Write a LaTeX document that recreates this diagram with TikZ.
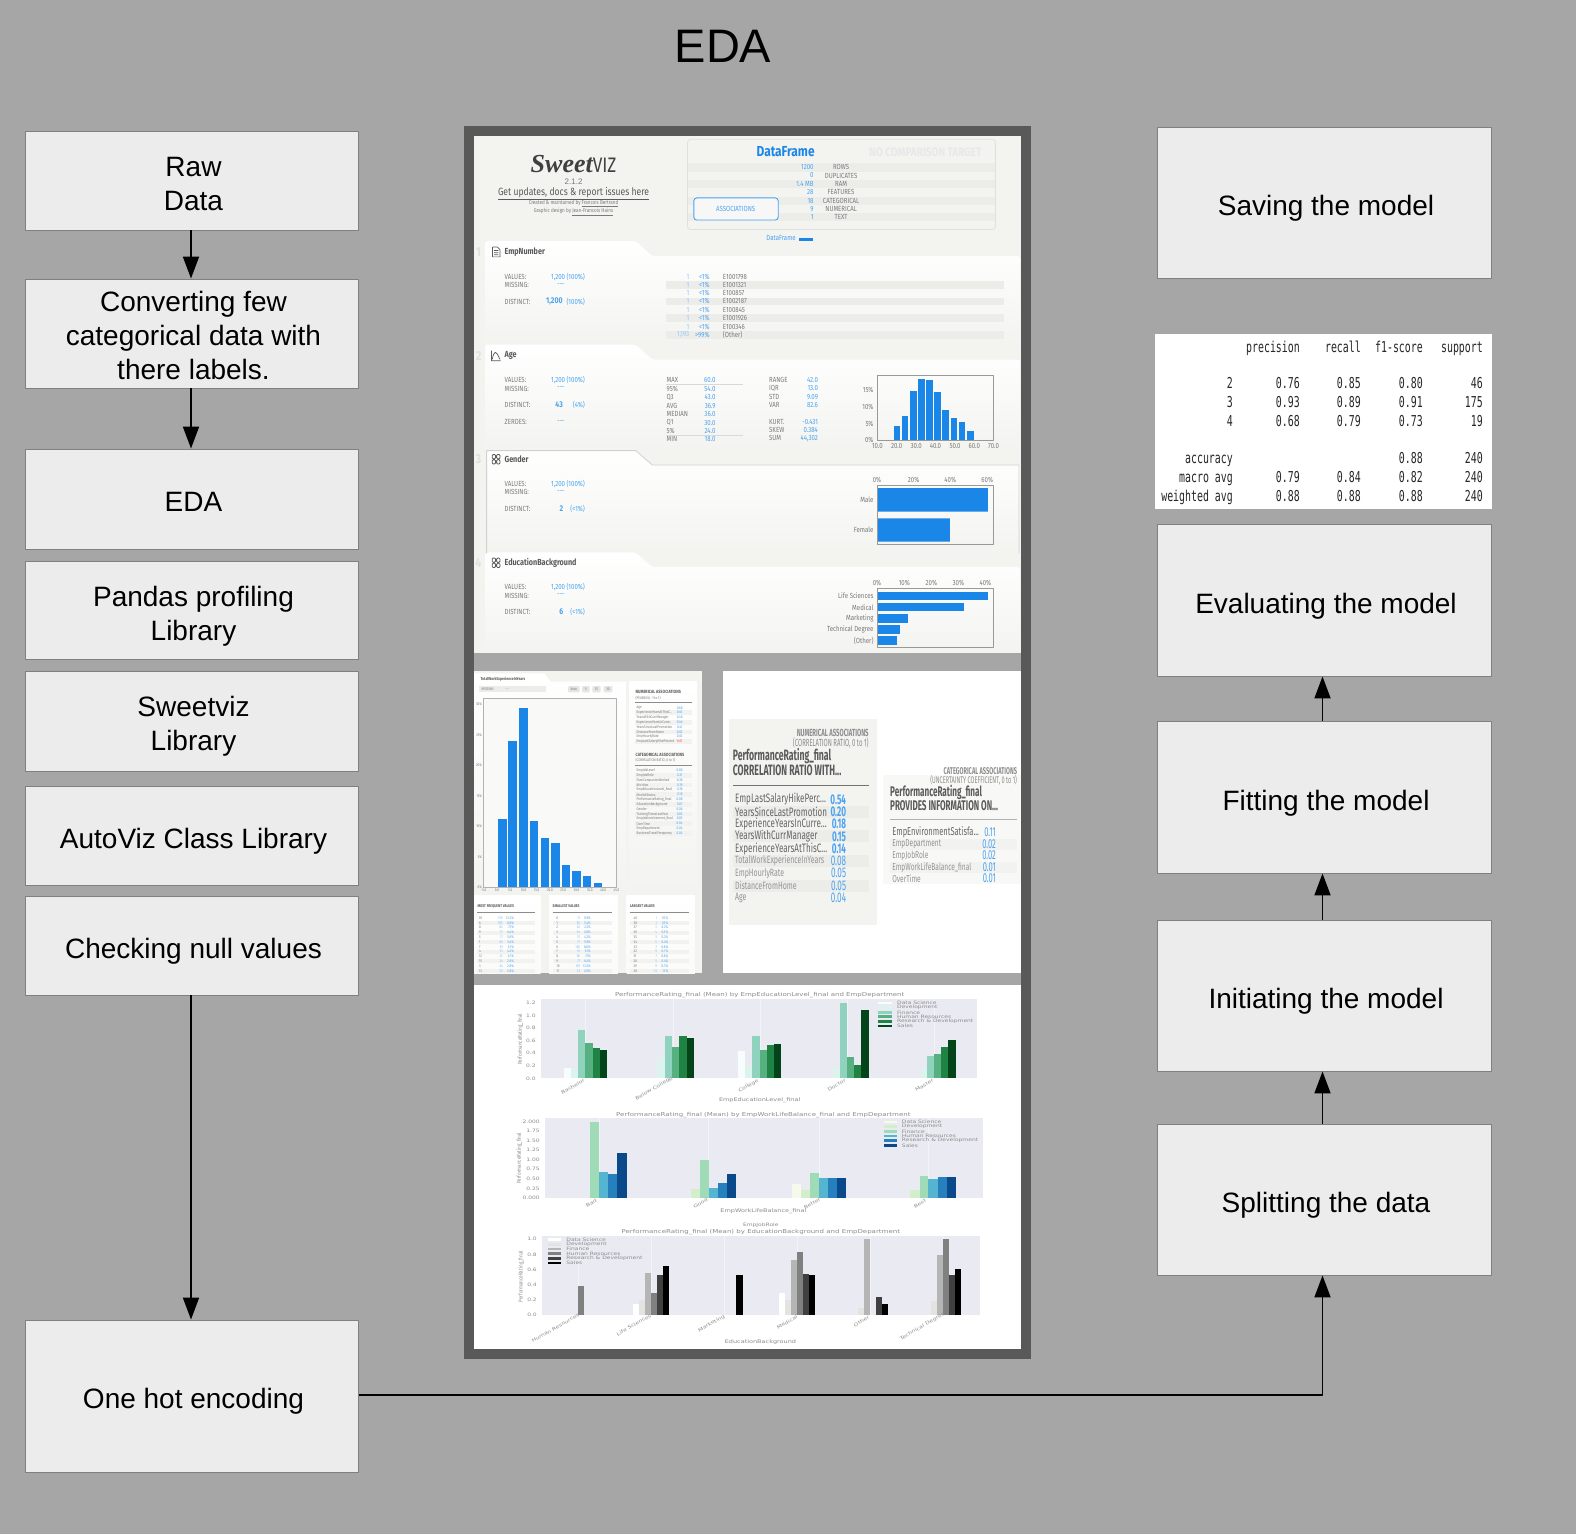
\documentclass[tikz,border=0pt]{standalone}
\usepackage{fontspec}
\usetikzlibrary{arrows.meta}
\setmainfont{Liberation Sans}
\newfontfamily\reportfont[FakeStretch=0.82]{Fira Sans}
\newfontfamily\shotfont[FakeStretch=0.58]{Fira Sans}
\newfontfamily\shotrowfont[FakeStretch=0.66]{Fira Sans}
\newfontfamily\logofont{Liberation Serif}
\newfontfamily\tablefont[FakeStretch=0.66]{DejaVu Sans Mono}
\newfontfamily\chartfont[FakeStretch=1.3]{DejaVu Sans}
\newcommand{\cutdots}{...}
\newcommand{\boxtext}[2][6pt]{\raisebox{-#1}[\height][\depth]{\hspace{3pt}\begin{tabular}{@{}c@{}}#2\end{tabular}}}
\definecolor{pagegray}{HTML}{A6A6A6}
\definecolor{boxfill}{HTML}{ECECEC}
\definecolor{boxline}{HTML}{808080}
\definecolor{framedark}{HTML}{595959}
\definecolor{panelbg}{HTML}{F3F3F0}
\definecolor{stripe}{HTML}{ECECE9}
\definecolor{barblue}{HTML}{1A86E8}
\definecolor{valueblue}{HTML}{4BA3F0}
\definecolor{labelgray}{HTML}{7A7A7A}
\definecolor{headgray}{HTML}{5A5A5A}
\definecolor{plotbg}{HTML}{EAEAF2}
\definecolor{plotgrid}{HTML}{F4F4F8}
\definecolor{chartgray}{HTML}{8C8C8C}
\definecolor{bga}{HTML}{F7FCFD}\definecolor{bgb}{HTML}{DDF3EE}\definecolor{bgc}{HTML}{8FD3BE}
\definecolor{bgd}{HTML}{56B080}\definecolor{bge}{HTML}{1F8443}\definecolor{bgf}{HTML}{04441B}
\definecolor{gba}{HTML}{F5FBEC}\definecolor{gbb}{HTML}{D3EECB}\definecolor{gbc}{HTML}{A0DBB8}
\definecolor{gbd}{HTML}{55B5D0}\definecolor{gbe}{HTML}{2580BD}\definecolor{gbf}{HTML}{0A4A8A}
\definecolor{gra}{HTML}{FFFFFF}\definecolor{grb}{HTML}{E3E3DF}\definecolor{grc}{HTML}{B5B5B5}
\definecolor{grd}{HTML}{808080}\definecolor{gre}{HTML}{404040}\definecolor{grf}{HTML}{000000}
\tikzset{
	flowbox/.style={draw=boxline,fill=boxfill,line width=.9pt,minimum width=333.5pt,inner sep=0pt,font=\fontsize{28}{34}\selectfont},
	flowarrow/.style={line width=1.8pt,-{Triangle[length=22pt,width=16pt]}},
	replabel/.style={font=\reportfont\fontsize{7.4}{8}\selectfont,text=labelgray,inner sep=0pt,anchor=west},
	repvalue/.style={font=\reportfont\fontsize{7.4}{8}\selectfont,text=valueblue,inner sep=0pt,anchor=east},
	smalllabel/.style={font=\reportfont\fontsize{3.8}{4}\selectfont,text=labelgray,inner sep=0pt,anchor=west},
	smallvalue/.style={font=\reportfont\fontsize{3.8}{4}\selectfont,text=valueblue,inner sep=0pt,anchor=east},
	smallhead/.style={font=\reportfont\bfseries\fontsize{4.6}{5}\selectfont,text=headgray,inner sep=0pt,anchor=west},
	charttext/.style={font=\chartfont\fontsize{4.6}{5}\selectfont,text=chartgray,inner sep=0pt},
	charttitle/.style={font=\chartfont\fontsize{5.4}{6}\selectfont,text=chartgray,inner sep=0pt},
	tablecell/.style={font=\tablefont\fontsize{15}{18}\selectfont,text=black!85,inner sep=0pt,anchor=base east}
}
\begin{document}
\begin{tikzpicture}[x=1pt,y=-1pt,line join=round]
	\path[use as bounding box] (0,0) rectangle (1576,1534);
	\fill[pagegray] (0,0) rectangle (1576,1534);

	\node[font=\fontsize{47}{50}\selectfont,inner sep=0pt] (title) at (723,46) {EDA};

	% Left column
	\node[flowbox,minimum height=99pt] (rawdata) at (192,180.5) {\boxtext{Raw\\Data}};
	\node[flowbox,minimum height=109pt] (convert) at (192,333.5) {\boxtext[5pt]{Converting few\\categorical data with\\there labels.}};
	\node[flowbox,minimum height=100pt] (eda) at (192,499) {\boxtext{EDA}};
	\node[flowbox,minimum height=98pt] (pandas) at (192,610) {\boxtext[7pt]{Pandas profiling\\Library}};
	\node[flowbox,minimum height=100pt] (sweetviz) at (192,721) {\boxtext{Sweetviz\\Library}};
	\node[flowbox,minimum height=99pt] (autoviz) at (192,835.5) {\boxtext{AutoViz Class Library}};
	\node[flowbox,minimum height=99pt] (nullcheck) at (192,945.5) {\boxtext{Checking null values}};
	\node[flowbox,minimum height=152pt] (onehot) at (192,1396) {\boxtext[6pt]{One hot encoding}};

	% Right column
	\node[flowbox,minimum height=151pt] (saving) at (1324.5,202.5) {\boxtext{Saving the model}};
	\node[flowbox,minimum height=152pt] (evaluate) at (1324.5,600) {\boxtext[7pt]{Evaluating the model}};
	\node[flowbox,minimum height=152pt] (fitting) at (1324.5,797) {\boxtext[7pt]{Fitting the model}};
	\node[flowbox,minimum height=151pt] (initiate) at (1324.5,995.5) {\boxtext{Initiating the model}};
	\node[flowbox,minimum height=151pt] (splitting) at (1324.5,1199.5) {\boxtext{Splitting the data}};

	% Arrows
	\draw[flowarrow] ([xshift=-1pt]rawdata.south) -- ([xshift=-1pt]convert.north);
	\draw[flowarrow] ([xshift=-1pt]convert.south) -- ([xshift=-1pt]eda.north);
	\draw[flowarrow] ([xshift=-1pt]nullcheck.south) -- ([xshift=-1pt]onehot.north);
	\draw[flowarrow] ([yshift=1pt]onehot.east) -| ([xshift=-2pt]splitting.south);
	\draw[flowarrow] ([xshift=-2pt]splitting.north) -- ([xshift=-2pt]initiate.south);
	\draw[flowarrow] ([xshift=-2pt]initiate.north) -- ([xshift=-2pt]fitting.south);
	\draw[flowarrow] ([xshift=-2pt]fitting.north) -- ([xshift=-2pt]evaluate.south);

	% Classification report
	\fill[white] (1155,334) rectangle (1492,509);
	\foreach \yrow/\lbl/\pa/\pb/\pc/\pd [count=\k] in {
		388/2/0.76/0.85/0.80/46,407/3/0.93/0.89/0.91/175,426/4/0.68/0.79/0.73/19,
		482/macro avg/0.79/0.84/0.82/240,501/weighted avg/0.88/0.88/0.88/240}{
		\node[tablecell] (rowname\k) at (1233,\yrow) {\lbl};
		\node[tablecell] (rowpre\k) at (1300,\yrow) {\pa};
		\node[tablecell] (rowrec\k) at (1361,\yrow) {\pb};
		\node[tablecell] (rowfone\k) at (1423,\yrow) {\pc};
		\node[tablecell] (rowsup\k) at (1483,\yrow) {\pd};
	}
	\node[tablecell] (headpre) at (1300,352) {precision};
	\node[tablecell] (headrec) at (1361,352) {recall};
	\node[tablecell] (headfone) at (1423,352) {f1-score};
	\node[tablecell] (headsup) at (1483,352) {support};
	\node[tablecell] (accname) at (1233,463) {accuracy};
	\node[tablecell] (accfone) at (1423,463) {0.88};
	\node[tablecell] (accsup) at (1483,463) {240};

	% Report frame
	\fill[framedark] (464,126) rectangle (1031,1359);

	% Report, first shot
	\begin{scope}[shift={(460,120)},x=0.37pt,y=-0.351pt]
		\fill[panelbg] (38,47) rectangle (1516,1520);
		\node[inner sep=0pt,text=black!75] (logo) at (307,125) {\logofont\bfseries\itshape\fontsize{26}{30}\selectfont Sweet\reportfont\upshape\mdseries\fontsize{21}{22}\selectfont VIZ};
		\node[inner sep=0pt,text=labelgray,font=\fontsize{8}{9}\selectfont] (version) at (307,175) {2.1.2};
		\node[inner sep=0pt,text=headgray,font=\reportfont\fontsize{10.5}{11}\selectfont] (getdocs) at (307,210) {\underline{Get updates, docs \& report issues here}};
		\node[inner sep=0pt,text=labelgray,font=\reportfont\fontsize{5.6}{6}\selectfont] (created) at (307,238) {Created \& maintained by \underline{Francois Bertrand}};
		\node[inner sep=0pt,text=labelgray,font=\reportfont\fontsize{5.6}{6}\selectfont] (design) at (307,262) {Graphic design by \underline{Jean-Francois Hains}};

		% DataFrame box
		\draw[draw=black!12,fill=panelbg,line width=.8pt,rounded corners=3pt] (615,55) rectangle (1447,312);
		\foreach \yrow in {135,182,230,277}
			\fill[stripe] (617,\yrow-12) rectangle (1445,\yrow+12);
		\node[inner sep=0pt,text=barblue,font=\reportfont\bfseries\fontsize{14.5}{15}\selectfont] (dfname) at (880,90) {DataFrame};
		\node[inner sep=0pt,text=black!9,font=\reportfont\bfseries\fontsize{12.2}{13}\selectfont] (nocompare) at (1258,93) {NO COMPARISON TARGET};
		\foreach \yrow/\val/\lbl [count=\k] in {135/1200/ROWS,158/0/DUPLICATES,182/1.4 MB/RAM,206/28/FEATURES,230/18/CATEGORICAL,253/9/NUMERICAL,277/1/TEXT}{
			\node[repvalue] (dfval\k) at (956,\yrow) {\val};
			\node[replabel,anchor=center] (dflbl\k) at (1030,\yrow) {\lbl};
		}
		\draw[draw=valueblue,fill=black!3,line width=.9pt,rounded corners=3pt] (632,222) rectangle (860,285);
		\node[repvalue,anchor=center] (assoc) at (745,253) {ASSOCIATIONS};
		\node[repvalue] (dfkey) at (908,337) {DataFrame};
		\fill[barblue] (917,335) rectangle (955,345);

		% Section tabs
		\foreach \ytab/\ymain/\ybot/\xleft/\ylab/\ttl [count=\k] in {345/388/640/68/377/EmpNumber,640/683/940/68/672/Age,942/983/1235/72/967/Gender,1232/1274/1520/68/1262/EducationBackground}{
			\shade[top color=white,bottom color=panelbg,rounded corners=2pt] (\xleft,\ybot) -- (\xleft,\ytab) -- (475,\ytab) -- (520,\ymain) -- (1513,\ymain) -- (1513,\ybot) -- cycle;
			\node[inner sep=0pt,text=black!12,font=\reportfont\bfseries\fontsize{13}{14}\selectfont] (secnum\k) at (50,\ylab) {\k};
			\node[inner sep=0pt,anchor=west,text=headgray,font=\reportfont\bfseries\fontsize{8.8}{10}\selectfont] (sectitle\k) at (120,\ylab) {\ttl};
		}
		\draw[black!18,line width=.8pt] (72,1235) -- (72,942) -- (475,942) -- (520,983) -- (1511,983) -- (1511,1235);

		% Section icons
		\draw[headgray,line width=.7pt] (88,362) -- (101,362) -- (108,369) -- (108,390) -- (88,390) -- cycle (92,372) -- (104,372) (92,378) -- (104,378) (92,384) -- (104,384);
		\draw[headgray,line width=.7pt] (85,657) -- (85,686) -- (110,686) (87,682) .. controls (93,655) and (97,655) .. (108,682);
		\foreach \ysq in {953,1248}{
			\draw[headgray,line width=.8pt,rounded corners=1pt] (87,\ysq) rectangle (96,\ysq+12) (99,\ysq) rectangle (108,\ysq+12) (87,\ysq+15) rectangle (96,\ysq+27) (99,\ysq+15) rectangle (108,\ysq+27);
		}

		% Values and distinct
		\foreach \off/\xdist/\dist/\share [count=\k] in {0/255/{1,200}/(100\%),295/268/43/(4\%),590/274/2/(<1\%),885/274/6/(<1\%)}{
			\node[replabel] (lblvalues\k) at (120,446+\off) {VALUES:};
			\node[repvalue] (valvalues\k) at (338,446+\off) {1,200 (100\%)};
			\node[replabel] (lblmissing\k) at (120,470+\off) {MISSING:};
			\node[repvalue,anchor=center] (valmissing\k) at (273,470+\off) {---};
			\node[replabel] (lbldistinct\k) at (120,517+\off) {DISTINCT:};
			\node[repvalue] (valshare\k) at (338,517+\off) {\share};
			\node[repvalue,anchor=center,font=\reportfont\bfseries\fontsize{8.4}{9}\selectfont] (valdist\k) at (\xdist,517+\off) {\dist};
		}
		\node[replabel] (lblzeroes) at (120,860) {ZEROES:};
		\node[repvalue,anchor=center] (valzeroes) at (273,860) {---};

		% Frequent values
		\foreach \yrow in {470,517,565,612}
			\fill[stripe] (558,\yrow-11) rectangle (1470,\yrow+11);
		\foreach \yrow/\cnt/\pct/\lbl [count=\k] in {446/1/<1\%/E1001798,470/1/<1\%/E1001321,494/1/<1\%/E100857,517/1/<1\%/E1002187,541/1/<1\%/E100845,565/1/<1\%/E1001926,589/1/<1\%/E100346,612/{1,193}/>99\%/(Other)}{
			\node[repvalue,text=valueblue!60] (freqcnt\k) at (620,\yrow) {\cnt};
			\node[repvalue] (freqpct\k) at (675,\yrow) {\pct};
			\node[replabel] (freqlbl\k) at (710,\yrow) {\lbl};
		}

		% Age summary
		\foreach \yrow/\lbl/\val [count=\k] in {741/MAX/60.0,766/95\%/54.0,790/Q3/43.0,814/AVG/36.9,838/MEDIAN/36.0,862/Q1/30.0,885/5\%/24.0,910/MIN/18.0}{
			\node[replabel] (agelbl\k) at (558,\yrow) {\lbl};
			\node[repvalue] (ageval\k) at (691,\yrow) {\val};
		}
		\draw[black!15,line width=.5pt] (558,754) -- (765,754) (558,898) -- (765,898);
		\foreach \yrow/\lbl/\val [count=\k] in {741/RANGE/42.0,765/IQR/13.0,789/STD/9.09,812/VAR/82.6,860/KURT./-0.431,883/SKEW/0.384,907/SUM/{44,302}}{
			\node[replabel] (spreadlbl\k) at (835,\yrow) {\lbl};
			\node[repvalue] (spreadval\k) at (968,\yrow) {\val};
		}

		% Age histogram
		\foreach \xa/\xb/\ytop in {1172/1190/873,1194/1212/843,1216/1234/772,1238/1256/737,1260/1278/742,1282/1299/775,1304/1321/825,1326/1343/849,1348/1365/861,1370/1388/885}
			\fill[barblue] (\xa,912) rectangle (\xb,\ytop);
		\draw[black!40,line width=.9pt] (1128,729) rectangle (1442,912);
		\foreach \yrow/\lbl [count=\k] in {768/15\%,818/10\%,865/5\%,912/0\%}
			\node[replabel,anchor=east] (histy\k) at (1118,\yrow) {\lbl};
		\foreach \xpos/\lbl [count=\k] in {1128/10.0,1180/20.0,1233/30.0,1285/40.0,1338/50.0,1390/60.0,1442/70.0}
			\node[replabel,anchor=center] (histx\k) at (\xpos,930) {\lbl};

		% Gender bars
		\foreach \xpos/\lbl [count=\k] in {1127/0\%,1226/20\%,1325/40\%,1425/60\%}
			\node[replabel,anchor=center] (genderx\k) at (\xpos,1026) {\lbl};
		\fill[barblue] (1128,1049) rectangle (1427,1116) (1128,1135) rectangle (1324,1201);
		\draw[black!40,line width=.9pt] (1128,1042) rectangle (1442,1210);
		\node[replabel,anchor=east] (gendera) at (1118,1083) {Male};
		\node[replabel,anchor=east] (genderb) at (1118,1167) {Female};

		% Education bars
		\foreach \xpos/\lbl [count=\k] in {1127/0\%,1201/10\%,1274/20\%,1347/30\%,1420/40\%}
			\node[replabel,anchor=center] (edux\k) at (\xpos,1320) {\lbl};
		\foreach \yrow/\xend/\lbl [count=\k] in {1356/1427/Life Sciences,1388/1361/Medical,1420/1210/Marketing,1451/1188/Technical Degree,1483/1180/(Other)}{
			\fill[barblue] (1128,\yrow-12) rectangle (\xend,\yrow+12);
			\node[replabel,anchor=east] (edulbl\k) at (1118,\yrow) {\lbl};
		}
		\draw[black!40,line width=.9pt] (1128,1335) rectangle (1442,1503);
	\end{scope}

	% Report, second row
	\fill[pagegray] (474,653) rectangle (1021,985);
	\begin{scope}[shift={(460,660)},x=0.37pt,y=-0.3333pt]
		\fill[panelbg] (38,34) rectangle (654,940);
		\shade[top color=white,bottom color=panelbg] (38,65) -- (38,40) -- (228,40) -- (245,65) -- (448,65) -- (448,700) -- (38,700) -- cycle;
		\node[smallhead,font=\reportfont\bfseries\fontsize{4.2}{5}\selectfont] (worktab) at (55,59) {TotalWorkExperienceInYears};
		\fill[stripe] (50,79) rectangle (232,97);
		\node[smalllabel] (workmiss) at (58,88) {MISSING:};
		\node[smallvalue,anchor=center] (workmissval) at (128,88) {---};
		\foreach \xa/\xb/\lbl [count=\k] in {292/323/Auto,330/350/5,358/380/15,388/412/30}{
			\fill[black!10,rounded corners=1pt] (\xa,78) rectangle (\xb,97);
			\node[smalllabel,anchor=center] (workbtn\k) at ({(\xa+\xb)/2},87) {\lbl};
		}

		% Experience histogram
		\fill[panelbg!50!white] (64,116) rectangle (423,682);
		\foreach \xa/\xb/\ytop in {103/126/477,131/155/244,160/183/143,189/212/484,218/241/535,246/270/548,275/298/616,304/327/632,332/355/649,361/384/669}
			\fill[barblue] (\xa,682) rectangle (\xb,\ytop);
		\draw[black!30,line width=.7pt] (64,116) rectangle (423,682);
		\foreach \yrow/\lbl [count=\k] in {134/30\%,225/25\%,317/20\%,408/15\%,499/10\%,591/5\%,682/0\%}
			\node[smalllabel,anchor=east] (worky\k) at (60,\yrow) {\lbl};
		\foreach \xpos/\lbl [count=\k] in {64/-5.0,100/0.0,136/5.0,172/10.0,207/15.0,243/20.0,279/25.0,315/30.0,351/35.0,387/40.0,423/45.0}
			\node[smalllabel,anchor=center] (workx\k) at (\xpos,692) {\lbl};

		% Associations of the feature
		\shade[top color=white,bottom color=panelbg] (458,65) rectangle (640,690);
		\node[smallhead] (assocnum) at (474,97) {NUMERICAL ASSOCIATIONS};
		\node[smalllabel] (assocnumb) at (474,114) {(PEARSON, -1 to 1)};
		\draw[black!45,line width=.6pt] (474,128) -- (627,128) (474,316) -- (627,316);
		\foreach \yrow in {158,187,216,245,346,375,404,433,462,491,520}
			\fill[stripe!70!white] (474,\yrow-7) rectangle (627,\yrow+7);
		\foreach \yrow/\lbl/\val [count=\k] in {144/Age/0.68,158/ExperienceYearsAtThisC../0.63,173/YearsWithCurrManager/0.46,187/ExperienceYearsInCurre../0.46,202/YearsSinceLastPromotion/0.41,216/DistanceFromHome/0.03,230/EmpHourlyRate/0.03}{
			\node[smalllabel] (numname\k) at (477,\yrow) {\lbl};
			\node[smallvalue] (numval\k) at (602,\yrow) {\val};
		}
		\node[smalllabel] (numnamelast) at (477,245) {EmpLastSalaryHikePercent};
		\node[smallvalue,text=red!70] (numvallast) at (602,245) {-0.01};
		\node[smallhead] (assoccat) at (474,285) {CATEGORICAL ASSOCIATIONS};
		\node[smalllabel] (assoccatb) at (474,300) {(CORRELATION RATIO, 0 to 1)};
		\foreach \yrow/\lbl/\val [count=\k] in {331/EmpJobLevel/0.80,346/EmpJobRole/0.31,360/NumCompaniesWorked/0.36,375/Attrition/0.19,389/EmpEducationLevel\_final/0.16,404/MaritalStatus/0.10,418/PerformanceRating\_final/0.08,433/EducationBackground/0.07,447/Gender/0.06,462/TrainingTimesLastYear/0.05,476/EmpJobInvolvement\_final/0.05,491/OverTime/0.04,505/EmpDepartment/0.04,520/BusinessTravelFrequency/0.04}{
			\node[smalllabel] (catname\k) at (477,\yrow) {\lbl};
			\node[smallvalue] (catval\k) at (602,\yrow) {\val};
		}

		% Value cards
		\foreach \xa/\xb/\lbl [count=\k] in {38/218/MOST FREQUENT VALUES,241/427/SMALLEST VALUES,450/635/LARGEST VALUES}{
			\shade[top color=white,bottom color=panelbg!40!white] (\xa,708) rectangle (\xb,940);
			\node[smallhead,font=\reportfont\bfseries\fontsize{4}{5}\selectfont] (cardhead\k) at (\xa+9,738) {\lbl};
			\draw[black!45,line width=.6pt] (\xa+9,757) -- (\xb-16,757);
			\foreach \yrow in {789,818,846,875,904,933}
				\fill[stripe!70!white] (\xa+9,\yrow-6) rectangle (\xb-16,\yrow+6);
		}
		\foreach \yrow/\va/\ca/\pa/\vb/\cb/\pb/\vc/\cc/\pc [count=\k] in {775/10/159/13.2\%/0/11/0.9\%/40/1/0.1\%,789/6/105/8.8\%/1/65/5.4\%/38/1/0.1\%,803/8/85/7.1\%/2/26/2.2\%/37/3/0.2\%,818/9/77/6.4\%/3/34/2.8\%/36/4/0.3\%,832/5/71/5.9\%/4/51/4.2\%/35/3/0.2\%,846/1/65/5.4\%/5/71/5.9\%/34/5/0.4\%,861/7/61/5.1\%/6/105/8.8\%/33/7/0.6\%,875/4/51/4.2\%/7/61/5.1\%/32/9/0.7\%,889/12/37/3.1\%/8/85/7.1\%/31/7/0.6\%,904/15/34/2.8\%/9/77/6.4\%/30/5/0.4\%,918/3/34/2.8\%/10/159/13.2\%/29/9/0.7\%,933/13/33/2.8\%/11/33/2.8\%/28/13/1.1\%}{
			\node[smalllabel] (freqa\k) at (51,\yrow) {\va};
			\node[smallvalue,text=valueblue!70] (freqb\k) at (116,\yrow) {\ca};
			\node[smallvalue] (freqc\k) at (146,\yrow) {\pa};
			\node[smalllabel] (smalla\k) at (260,\yrow) {\vb};
			\node[smallvalue,text=valueblue!70] (smallb\k) at (325,\yrow) {\cb};
			\node[smallvalue] (smallc\k) at (354,\yrow) {\pb};
			\node[smalllabel] (largea\k) at (469,\yrow) {\vc};
			\node[smallvalue,text=valueblue!70] (largeb\k) at (533,\yrow) {\cc};
			\node[smallvalue] (largec\k) at (563,\yrow) {\pc};
		}

		% Association shots
		\fill[white] (711,34) rectangle (1516,940);
		\fill[panelbg] (726,178) rectangle (1126,796);
		\fill[panelbg!60!white] (1142,345) rectangle (1516,672);
		\node[smallhead,anchor=east,text=black!45,font=\shotfont\bfseries\fontsize{10.3}{11}\selectfont] (numshot) at (1105,219) {NUMERICAL ASSOCIATIONS};
		\node[smallhead,anchor=east,text=black!45,font=\shotfont\mdseries\fontsize{10.3}{11}\selectfont] (numshotb) at (1105,248) {(CORRELATION RATIO, 0 to 1)};
		\node[smallhead,font=\shotfont\bfseries\fontsize{15}{16}\selectfont] (numshotc) at (737,287) {PerformanceRating\_final};
		\node[smallhead,font=\shotfont\bfseries\fontsize{15}{16}\selectfont] (numshotd) at (737,332) {CORRELATION RATIO WITH\cutdots};
		\draw[black!55,line width=1.1pt] (737,377) -- (1105,377);
		\foreach \yrow in {455,529,603,677}
			\fill[stripe] (737,\yrow-18) rectangle (1105,\yrow+18);
		\foreach \yrow/\lbl/\val [count=\k] in {418/EmpLastSalaryHikePerc\cutdots/0.54,455/YearsSinceLastPromotion/0.20,492/ExperienceYearsInCurre\cutdots/0.18,529/YearsWithCurrManager/0.15,566/ExperienceYearsAtThisC\cutdots/0.14}{
			\node[smalllabel,text=black!60,font=\shotrowfont\fontsize{12.2}{13}\selectfont] (numrow\k) at (743,\yrow) {\lbl};
			\node[smallvalue,font=\shotfont\bfseries\fontsize{14}{15}\selectfont] (numrowval\k) at (1044,\yrow) {\val};
		}
		\foreach \yrow/\lbl/\val [count=\k] in {603/TotalWorkExperienceInYears/0.08,640/EmpHourlyRate/0.05,677/DistanceFromHome/0.05,714/Age/0.04}{
			\node[smalllabel,text=black!42,font=\shotrowfont\fontsize{10.6}{11}\selectfont] (numrest\k) at (743,\yrow) {\lbl};
			\node[smallvalue,font=\shotfont\fontsize{14}{15}\selectfont] (numrestval\k) at (1044,\yrow) {\val};
		}
		\node[smallhead,anchor=east,text=black!45,font=\shotfont\bfseries\fontsize{9.8}{11}\selectfont] (catshot) at (1506,333) {CATEGORICAL ASSOCIATIONS};
		\node[smallhead,anchor=east,text=black!45,font=\shotfont\mdseries\fontsize{9.6}{11}\selectfont] (catshotb) at (1506,360) {(UNCERTAINTY COEFFICIENT, 0 to 1)};
		\node[smallhead,font=\shotfont\bfseries\fontsize{14}{15}\selectfont] (catshotc) at (1162,396) {PerformanceRating\_final};
		\node[smallhead,font=\shotfont\bfseries\fontsize{14}{15}\selectfont] (catshotd) at (1162,437) {PROVIDES INFORMATION ON\cutdots};
		\draw[black!30,line width=1.2pt] (1162,478) -- (1506,478);
		\foreach \yrow in {553,622}
			\fill[stripe!70!white] (1162,\yrow-17) rectangle (1506,\yrow+17);
		\foreach \yrow/\lbl/\val/\tone/\tsize [count=\k] in {518/EmpEnvironmentSatisfa\cutdots/0.11/60/11.4,553/EmpDepartment/0.02/42/10,587/EmpJobRole/0.02/42/10,622/EmpWorkLifeBalance\_final/0.01/42/10,656/OverTime/0.01/42/10}{
			\node[smalllabel,text=black!\tone,font=\shotrowfont\fontsize{\tsize}{12}\selectfont] (catrow\k) at (1168,\yrow) {\lbl};
			\node[smallvalue,font=\shotfont\fontsize{13}{14}\selectfont] (catrowval\k) at (1449,\yrow) {\val};
		}
	\end{scope}

	% Report, bar charts
	\begin{scope}[shift={(460,980)},x=0.37pt,y=-0.3333pt]
		\fill[white] (38,15) rectangle (1516,1107);

		% Education level chart
		\fill[plotbg] (218,57) rectangle (1398,295);
		\draw[plotgrid,line width=.4pt] (338,57) -- (338,295) (575,57) -- (575,295) (810,57) -- (810,295) (1046,57) -- (1046,295) (1281,57) -- (1281,295);
		\node[charttitle] (charta) at (810,46) {PerformanceRating\_final (Mean) by EmpEducationLevel\_final and EmpDepartment};
		\foreach \xa/\xb/\ytop/\col in {280/300/265/bga,300/319/263/bgb,319/339/151/bgc,339/359/189/bgd,359/378/204/bge,378/397/210/bgf,
			533/553/235/bgb,553/573/169/bgc,573/593/200/bgd,593/613/169/bge,613/633/174/bgf,
			752/771/214/bga,771/790/258/bgb,790/810/169/bgc,810/829/209/bgd,829/849/194/bge,849/868/191/bgf,
			1007/1027/262/bgb,1027/1046/68/bgc,1046/1066/232/bgd,1066/1085/254/bge,1085/1105/91/bgf,
			1243/1262/268/bgb,1262/1281/227/bgc,1281/1301/222/bgd,1301/1320/200/bge,1320/1340/181/bgf}
			\fill[\col] (\xa,295) rectangle (\xb,\ytop);
		\foreach \yrow/\lbl [count=\k] in {68/1.2,106/1.0,144/0.8,181/0.6,219/0.4,257/0.2,295/0.0}
			\node[charttext,anchor=east] (chartay\k) at (205,\yrow) {\lbl};
		\foreach \xpos/\ypos/\lbl [count=\k] in {305/320/Bachelor,525/326/Below College,780/318/College,1018/316/Doctor,1255/316/Master}
			\node[charttext,rotate=30] (chartax\k) at (\xpos,\ypos) {\lbl};
		\node[charttitle,font=\chartfont\fontsize{5}{6}\selectfont] (chartalbl) at (810,360) {EmpEducationLevel\_final};
		\node[charttext,rotate=90,font=\reportfont\fontsize{5.6}{6}\selectfont] (chartaval) at (163,178) {PerformanceRating\_final};
		\foreach \yrow/\lbl/\col [count=\k] in {69/Data Science/bga,83/Development/bgb,97/Finance/bgc,110/Human Resources/bgd,124/Research \& Development/bge,138/Sales/bgf}{
			\fill[\col] (1131,\yrow-4) rectangle (1168,\yrow+4);
			\node[charttext,anchor=west] (chartakey\k) at (1181,\yrow) {\lbl};
		}

		% Work life balance chart
		\fill[plotbg] (230,415) rectangle (1414,653);
		\draw[plotgrid,line width=.4pt] (375,415) -- (375,653) (672,415) -- (672,653) (970,415) -- (970,653) (1266,415) -- (1266,653);
		\node[charttitle] (chartb) at (820,404) {PerformanceRating\_final (Mean) by EmpWorkLifeBalance\_final and EmpDepartment};
		\foreach \xa/\xb/\ytop/\col in {351/376/425/gbc,376/401/577/gbd,401/425/581/gbe,425/450/520/gbf,
			624/649/627/gbb,649/673/540/gbc,673/698/625/gbd,698/722/608/gbe,722/747/583/gbf,
			897/921/612/gba,921/946/630/gbb,946/970/580/gbc,970/994/595/gbd,994/1019/595/gbe,1019/1044/595/gbf,
			1217/1242/629/gbb,1242/1266/589/gbc,1266/1291/596/gbd,1291/1316/592/gbe,1316/1341/592/gbf}
			\fill[\col] (\xa,653) rectangle (\xb,\ytop);
		\foreach \yrow/\lbl [count=\k] in {425/2.000,454/1.75,482/1.50,510/1.25,539/1.00,567/0.75,596/0.50,625/0.25,653/0.000}
			\node[charttext,anchor=east] (chartby\k) at (216,\yrow) {\lbl};
		\foreach \xpos/\lbl [count=\k] in {355/Bad,650/Good,952/Better,1243/Best}
			\node[charttext,rotate=30] (chartbx\k) at (\xpos,670) {\lbl};
		\node[charttitle,font=\chartfont\fontsize{5}{6}\selectfont] (chartblbl) at (820,695) {EmpWorkLifeBalance\_final};
		\node[charttext,rotate=90,font=\reportfont\fontsize{5.6}{6}\selectfont] (chartbval) at (160,535) {PerformanceRating\_final};
		\foreach \yrow/\lbl/\col [count=\k] in {426/Data Science/gba,440/Development/gbb,454/Finance/gbc,468/Human Resources/gbd,482/Research \& Development/gbe,496/Sales/gbf}{
			\fill[\col] (1145,\yrow-4) rectangle (1182,\yrow+4);
			\node[charttext,anchor=west] (chartbkey\k) at (1194,\yrow) {\lbl};
		}

		% Education background chart
		\node[charttext] (chartctop) at (813,735) {EmpJobRole};
		\fill[plotbg] (222,768) rectangle (1405,1005);
		\draw[plotgrid,line width=.4pt] (320,768) -- (320,1005) (517,768) -- (517,1005) (714,768) -- (714,1005) (911,768) -- (911,1005) (1108,768) -- (1108,1005) (1306,768) -- (1306,1005);
		\node[charttitle] (chartc) at (813,757) {PerformanceRating\_final (Mean) by EducationBackground and EmpDepartment};
		\foreach \xa/\xb/\ytop/\col in {318/335/918/grd,
			467/484/973/gra,484/500/961/grb,500/517/880/grc,517/533/940/grd,533/549/886/gre,549/565/857/grf,
			747/764/886/grf,
			862/878/938/gra,878/895/960/grb,895/911/840/grc,911/928/817/grd,928/944/881/gre,944/960/884/grf,
			1076/1092/985/grb,1092/1108/778/grc,1124/1141/951/gre,1141/1158/973/grf,
			1273/1290/964/grb,1290/1306/824/grc,1306/1322/778/grd,1322/1338/886/gre,1338/1354/868/grf}
			\fill[\col] (\xa,1005) rectangle (\xb,\ytop);
		\foreach \yrow/\lbl [count=\k] in {778/1.0,824/0.8,869/0.6,915/0.4,961/0.2,1005/0.0}
			\node[charttext,anchor=east] (chartcy\k) at (208,\yrow) {\lbl};
		\foreach \xpos/\ypos/\lbl [count=\k] in {258/1044/Human Resources,470/1035/Life Sciences,680/1031/Marketing,884/1027/Medical,1085/1024/Other,1250/1040/Technical Degree}
			\node[charttext,rotate=30] (chartcx\k) at (\xpos,\ypos) {\lbl};
		\node[charttitle,font=\chartfont\fontsize{5}{6}\selectfont] (chartclbl) at (812,1085) {EducationBackground};
		\node[charttext,rotate=90,font=\reportfont\fontsize{5.6}{6}\selectfont] (chartcval) at (165,890) {PerformanceRating\_final};
		\foreach \yrow/\lbl/\col [count=\k] in {779/Data Science/gra,793/Development/grb,807/Finance/grc,821/Human Resources/grd,835/Research \& Development/gre,849/Sales/grf}{
			\fill[\col] (237,\yrow-4) rectangle (273,\yrow+4);
			\node[charttext,anchor=west] (chartckey\k) at (287,\yrow) {\lbl};
		}
	\end{scope}
\end{tikzpicture}
\end{document}
